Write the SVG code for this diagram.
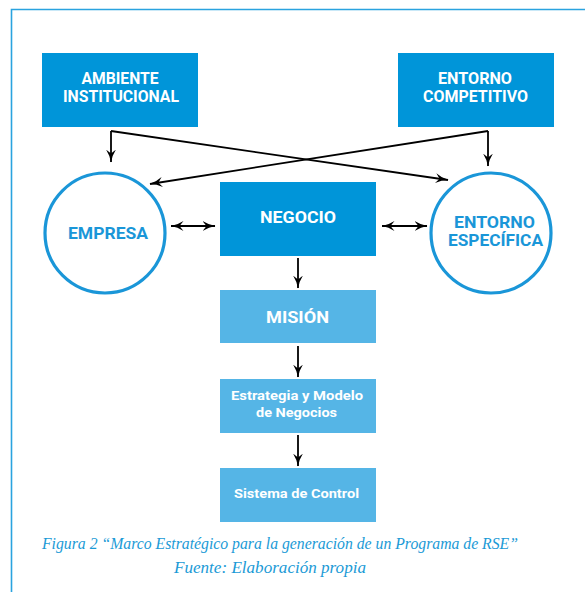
<svg xmlns="http://www.w3.org/2000/svg" width="585" height="592" viewBox="0 0 585 592">
<defs>
<marker id="ah" viewBox="0 0 13 10" refX="12.5" refY="5" markerWidth="13" markerHeight="10" markerUnits="userSpaceOnUse" orient="auto-start-reverse">
<path d="M0,0 Q6,4 13,5 Q6,6 0,10 L4,5 z" fill="#000"/>
</marker>
<style>
.dk{fill:#0095d9}
.lt{fill:#55b5e6}
.circ{fill:#fff;stroke:#1a96d8;stroke-width:3.2}
.wt{fill:#fff;font-family:Roboto,"Liberation Sans",sans-serif;font-weight:bold;text-anchor:middle}
.bt{fill:#1a96d8;font-family:Roboto,"Liberation Sans",sans-serif;font-weight:bold;text-anchor:middle}
.cn{fill:none;stroke:#000;stroke-width:1.8}
.cap{fill:#1a9ad6;font-family:"Liberation Serif",serif;font-style:italic;text-anchor:middle;font-size:16.5px}
</style>
</defs>
<rect width="585" height="592" fill="#fff"/>
<g id="frame" fill="none" stroke="#2aa3df" stroke-width="1.6">
<path d="M585,9.5 H11.5 V592"/>
</g>
<g id="ambiente">
<rect class="dk" x="42" y="53" width="156" height="74"/>
<text class="wt" x="120" y="84" font-size="16" textLength="77" lengthAdjust="spacingAndGlyphs">AMBIENTE</text>
<text class="wt" x="121" y="102" font-size="16" textLength="116" lengthAdjust="spacingAndGlyphs">INSTITUCIONAL</text>
</g>
<g id="competitivo">
<rect class="dk" x="398" y="53" width="156" height="74"/>
<text class="wt" x="475" y="84" font-size="16" textLength="74" lengthAdjust="spacingAndGlyphs">ENTORNO</text>
<text class="wt" x="475.5" y="102" font-size="16" textLength="105" lengthAdjust="spacingAndGlyphs">COMPETITIVO</text>
</g>
<g id="empresa">
<circle class="circ" cx="105" cy="233" r="60"/>
<text class="bt" x="108" y="239" font-size="17" textLength="80" lengthAdjust="spacingAndGlyphs">EMPRESA</text>
</g>
<g id="especifica">
<circle class="circ" cx="491" cy="233" r="60"/>
<text class="bt" x="494.5" y="228" font-size="16" textLength="81" lengthAdjust="spacingAndGlyphs">ENTORNO</text>
<text class="bt" x="495.5" y="246" font-size="16" textLength="95" lengthAdjust="spacingAndGlyphs">ESPECÍFICA</text>
</g>
<g id="negocio">
<rect class="dk" x="220" y="182" width="156" height="74"/>
<text class="wt" x="298" y="223" font-size="17" textLength="76" lengthAdjust="spacingAndGlyphs">NEGOCIO</text>
</g>
<g id="mision">
<rect class="lt" x="220" y="290" width="156" height="53"/>
<text class="wt" x="297.5" y="323" font-size="17" textLength="63" lengthAdjust="spacingAndGlyphs">MISIÓN</text>
</g>
<g id="estrategia">
<rect class="lt" x="220" y="379" width="156" height="54"/>
<text class="wt" x="297" y="400" font-size="13.5" textLength="132" lengthAdjust="spacingAndGlyphs">Estrategia y Modelo</text>
<text class="wt" x="296.5" y="417" font-size="13.5" textLength="81" lengthAdjust="spacingAndGlyphs">de Negocios</text>
</g>
<g id="control">
<rect class="lt" x="220" y="468" width="156" height="54"/>
<text class="wt" x="296.5" y="498" font-size="13.5" textLength="125" lengthAdjust="spacingAndGlyphs">Sistema de Control</text>
</g>
<g id="connectors">
<path class="cn" d="M111,131 V162" marker-end="url(#ah)"/>
<path class="cn" d="M111,131 L448,180" marker-end="url(#ah)"/>
<path class="cn" d="M488,131 V166" marker-end="url(#ah)"/>
<path class="cn" d="M488,131 L150,184" marker-end="url(#ah)"/>
<path class="cn" d="M171,226 H215" marker-start="url(#ah)" marker-end="url(#ah)"/>
<path class="cn" d="M382,226 H427" marker-start="url(#ah)" marker-end="url(#ah)"/>
<path class="cn" d="M298,258 V288" marker-end="url(#ah)"/>
<path class="cn" d="M298,346 V377" marker-end="url(#ah)"/>
<path class="cn" d="M298,435 V466" marker-end="url(#ah)"/>
</g>
<g id="caption">
<text class="cap" x="280" y="549" textLength="476" lengthAdjust="spacingAndGlyphs">Figura 2 “Marco Estratégico para la generación de un Programa de RSE”</text>
<text class="cap" x="270" y="573" textLength="192" lengthAdjust="spacingAndGlyphs">Fuente: Elaboración propia</text>
</g>
</svg>
